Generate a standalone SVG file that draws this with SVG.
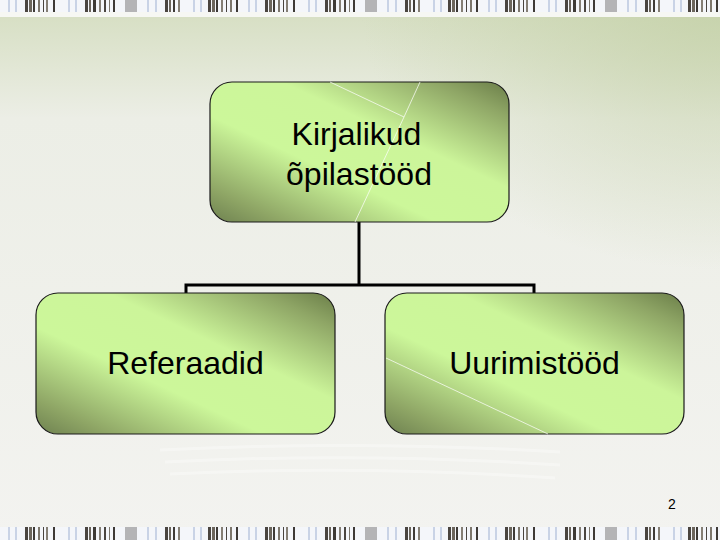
<svg xmlns="http://www.w3.org/2000/svg" width="720" height="540" viewBox="0 0 720 540">
  <defs>
    <linearGradient id="bg" x1="0" y1="0" x2="0" y2="1">
      <stop offset="0" stop-color="#d4ddbf"/>
      <stop offset="0.22" stop-color="#eceee6"/>
      <stop offset="1" stop-color="#f3f3f0"/>
    </linearGradient>
    <radialGradient id="bgside" cx="1" cy="0" r="0.5">
      <stop offset="0" stop-color="#c3d0a6" stop-opacity="0.8"/>
      <stop offset="1" stop-color="#c3d0a6" stop-opacity="0"/>
    </radialGradient>
    <linearGradient id="boxfill" x1="1" y1="0" x2="0" y2="1">
      <stop offset="0" stop-color="#6a7d48"/>
      <stop offset="0.12" stop-color="#8ea565"/>
      <stop offset="0.38" stop-color="#ccf59a"/>
      <stop offset="0.62" stop-color="#ccf79a"/>
      <stop offset="0.88" stop-color="#8ea565"/>
      <stop offset="1" stop-color="#6e8150"/>
    </linearGradient>
    <pattern id="barcode" x="0" y="0" width="240" height="14" patternUnits="userSpaceOnUse">
      <rect x="0" y="0" width="240" height="14" fill="#f4f6fa"/>
      <rect x="8" y="0" width="2" height="14" fill="#c9d3e6"/>
      <rect x="15" y="0" width="2" height="14" fill="#c9d3e6"/>
      <rect x="25" y="0" width="3" height="14" fill="#4a4540"/>
      <rect x="29" y="0" width="3" height="14" fill="#6b655c"/>
      <rect x="33" y="0" width="2" height="14" fill="#3e3a36"/>
      <rect x="38" y="0" width="2" height="14" fill="#7d776d"/>
      <rect x="43" y="0" width="1" height="14" fill="#4a4540"/>
      <rect x="46" y="0" width="2" height="14" fill="#857f75"/>
      <rect x="53" y="0" width="2" height="14" fill="#3e3a36"/>
      <rect x="68" y="0" width="2" height="14" fill="#c9d3e6"/>
      <rect x="75" y="0" width="2" height="14" fill="#c9d3e6"/>
      <rect x="85" y="0" width="3" height="14" fill="#4a4540"/>
      <rect x="89" y="0" width="2" height="14" fill="#6b655c"/>
      <rect x="93" y="0" width="3" height="14" fill="#3e3a36"/>
      <rect x="99" y="0" width="2" height="14" fill="#857f75"/>
      <rect x="104" y="0" width="2" height="14" fill="#4a4540"/>
      <rect x="109" y="0" width="1" height="14" fill="#7d776d"/>
      <rect x="113" y="0" width="2" height="14" fill="#3e3a36"/>
      <rect x="125" y="0" width="12" height="14" fill="#b4b4b6"/>
      <rect x="147" y="0" width="2" height="14" fill="#c9d3e6"/>
      <rect x="155" y="0" width="2" height="14" fill="#c9d3e6"/>
      <rect x="165" y="0" width="3" height="14" fill="#4a4540"/>
      <rect x="169" y="0" width="2" height="14" fill="#6b655c"/>
      <rect x="173" y="0" width="2" height="14" fill="#3e3a36"/>
      <rect x="178" y="0" width="2" height="14" fill="#857f75"/>
      <rect x="193" y="0" width="2" height="14" fill="#c9d3e6"/>
      <rect x="200" y="0" width="2" height="14" fill="#c9d3e6"/>
      <rect x="208" y="0" width="3" height="14" fill="#4a4540"/>
      <rect x="212" y="0" width="3" height="14" fill="#6b655c"/>
      <rect x="216" y="0" width="2" height="14" fill="#3e3a36"/>
      <rect x="221" y="0" width="2" height="14" fill="#857f75"/>
      <rect x="226" y="0" width="1" height="14" fill="#4a4540"/>
      <rect x="230" y="0" width="2" height="14" fill="#7d776d"/>
      <rect x="236" y="0" width="2" height="14" fill="#3e3a36"/>
    </pattern>
    <style>
      .node rect { fill: url(#boxfill); stroke: #1a1a1a; stroke-width: 1.2; }
      .node text { font-family: "Liberation Sans", Arial, sans-serif; font-size: 32px; fill: #000; text-anchor: middle; }
      .conn { fill: none; stroke: #000; stroke-width: 3; }
      .streak { stroke: #ffffff; stroke-width: 1; opacity: 0.7; fill: none; }
    </style>
  </defs>

  <!-- background -->
  <rect x="0" y="0" width="720" height="540" fill="url(#bg)"/>
  <rect x="0" y="0" width="720" height="540" fill="url(#bgside)"/>
  <!-- faint paper stack -->
  <g opacity="0.35" fill="none" stroke="#ffffff" stroke-width="3">
    <path d="M160 450 Q360 440 560 452"/>
    <path d="M165 462 Q360 452 560 465"/>
    <path d="M170 474 Q360 465 555 478"/>
  </g>
  <rect x="0" y="12" width="720" height="5" fill="#f6f7f3"/>

  <!-- barcode strips -->
  <rect x="0" y="0" width="720" height="12" fill="url(#barcode)"/>
  <rect x="0" y="527" width="720" height="13" fill="url(#barcode)"/>

  <!-- connectors -->
  <g id="connectors">
    <path class="conn" d="M359 222 V285"/>
    <path class="conn" d="M186 293 V285 H534 V293"/>
  </g>

  <!-- nodes -->
  <g id="node-top" class="node">
    <rect x="210" y="82" width="299" height="140" rx="22" ry="22"/>
    <path class="streak" d="M330 82 L404 117 L420 82"/>
    <path class="streak" d="M404 117 L355 222"/>
    <text x="356.5" y="145">Kirjalikud</text>
    <text x="359" y="185">õpilastööd</text>
  </g>
  <g id="node-left" class="node">
    <rect x="36" y="293" width="299" height="141" rx="22" ry="22"/>
    <text x="185.5" y="374">Referaadid</text>
  </g>
  <g id="node-right" class="node">
    <rect x="385" y="293" width="299" height="141" rx="22" ry="22"/>
    <path class="streak" d="M386 358 L548 434"/>
    <text x="534.5" y="374">Uurimistööd</text>
  </g>

  <!-- page number -->
  <text x="672" y="509" font-family="Liberation Sans, Arial, sans-serif" font-size="14" fill="#000" text-anchor="middle">2</text>
</svg>
